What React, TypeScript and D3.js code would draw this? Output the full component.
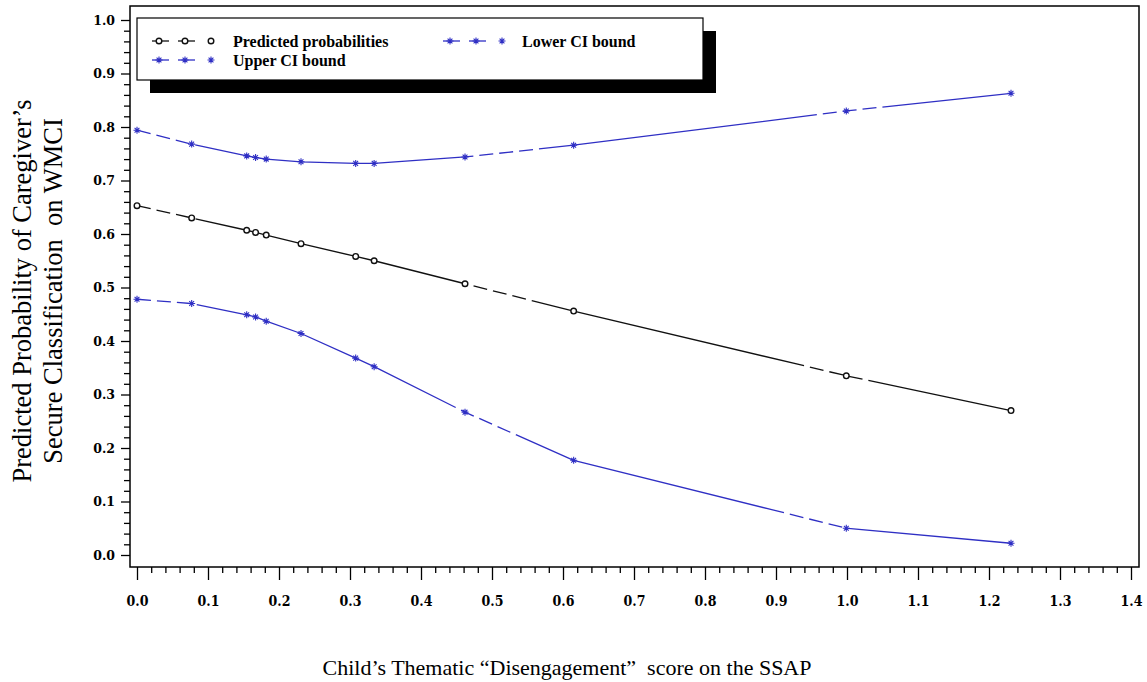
import React, { useEffect, useRef } from 'react';
import * as d3 from 'd3';

// Disengagement scores at which the model was evaluated
const scores = [0.0, 0.077, 0.1545, 0.167, 0.182, 0.231, 0.308, 0.334, 0.462, 0.615, 0.999, 1.231];
// Predicted probability of secure classification and its confidence bounds
const predicted = [0.653, 0.63, 0.607, 0.603, 0.598, 0.582, 0.558, 0.55, 0.507, 0.456, 0.335, 0.27];
const upperBound = [0.794, 0.768, 0.746, 0.743, 0.74, 0.735, 0.732, 0.732, 0.744, 0.766, 0.83, 0.863];
const lowerBound = [0.478, 0.47, 0.449, 0.445, 0.437, 0.414, 0.368, 0.352, 0.267, 0.177, 0.05, 0.022];

const xTickLabels = ['0.0', '0.1', '0.2', '0.3', '0.4', '0.5', '0.6', '0.7', '0.8', '0.9', '1.0', '1.1', '1.2', '1.3', '1.4'];
const yTickLabels = ['0.0', '0.1', '0.2', '0.3', '0.4', '0.5', '0.6', '0.7', '0.8', '0.9', '1.0'];

const seriesNames = ['Predicted probabilities', 'Upper CI bound', 'Lower CI bound'];

const W = 1147;
const H = 682;
const BLUE = '#2f2fc4';
const DASH = '14 6 14 6 14 6 280 6';

export default function App() {
  const ref = useRef<SVGSVGElement | null>(null);

  useEffect(() => {
    const svg = d3.select(ref.current);
    svg.selectAll('*').remove();

    const frame = { left: 130, top: 6, right: 1139, bottom: 567 };
    const x = d3.scaleLinear().domain([0, 1.4]).range([137, 1131]);
    const y = d3.scaleLinear().domain([0, 1]).range([555, 20]);

    svg.append('rect').attr('width', W).attr('height', H).attr('fill', '#fff');

    // plot frame
    svg.append('rect')
      .attr('x', frame.left).attr('y', frame.top)
      .attr('width', frame.right - frame.left).attr('height', frame.bottom - frame.top)
      .attr('fill', 'none').attr('stroke', '#000').attr('stroke-width', 1.5);

    const xMajor = xTickLabels.map(Number);
    const yMajor = yTickLabels.map(Number);
    const xMinor = d3.range(0, 71).map(i => i * 0.02).filter(v => Math.abs(v * 10 - Math.round(v * 10)) > 1e-6);
    const yMinor = d3.range(0, 51).map(i => i * 0.02).filter(v => Math.abs(v * 10 - Math.round(v * 10)) > 1e-6);

    const tickStyle = (g: any) => {
      g.select('.domain').remove();
      g.selectAll('line').attr('stroke', '#000').attr('stroke-width', 1.3);
    };

    // x axis
    const gx = svg.append('g').attr('transform', `translate(0,${frame.bottom})`);
    gx.call(d3.axisBottom(x).tickValues(xMinor).tickSize(6).tickFormat(() => ''));
    gx.call(tickStyle);
    const gx2 = svg.append('g').attr('transform', `translate(0,${frame.bottom})`);
    gx2.call(
      d3.axisBottom(x).tickValues(xMajor).tickSize(13).tickPadding(16)
        .tickFormat((_d, i) => xTickLabels[i])
    );
    gx2.call(tickStyle);
    gx2.selectAll('text')
      .attr('font-family', '"DejaVu Serif", serif')
      .attr('font-weight', 'bold')
      .attr('font-size', 14)
      .attr('font-stretch', 'condensed')
      .attr('fill', '#000');

    // y axis
    const gy = svg.append('g').attr('transform', `translate(${frame.left},0)`);
    gy.call(d3.axisLeft(y).tickValues(yMinor).tickSize(6).tickFormat(() => ''));
    gy.call(tickStyle);
    const gy2 = svg.append('g').attr('transform', `translate(${frame.left},0)`);
    gy2.call(
      d3.axisLeft(y).tickValues(yMajor).tickSize(9).tickPadding(6)
        .tickFormat((_d, i) => yTickLabels[i])
    );
    gy2.call(tickStyle);
    gy2.selectAll('text')
      .attr('font-family', '"DejaVu Serif", serif')
      .attr('font-weight', 'bold')
      .attr('font-size', 12.5)
      .attr('fill', '#000');

    // series lines
    const line = d3.line<number>()
      .x((_d, i) => x(scores[i]))
      .y(d => y(d))
      .curve(d3.curveLinear);

    const series = [
      { values: upperBound, color: BLUE, marker: 'star' },
      { values: lowerBound, color: BLUE, marker: 'star' },
      { values: predicted, color: '#111', marker: 'circle' },
    ];

    const drawMarker = (g: any, cx: number, cy: number, kind: string, color: string) => {
      if (kind === 'circle') {
        g.append('circle').attr('cx', cx).attr('cy', cy).attr('r', 2.8)
          .attr('fill', '#fff').attr('stroke', color).attr('stroke-width', 1.4);
      } else {
        const s = 3.5;
        const d = 2.4;
        g.append('path')
          .attr('d', `M${cx - s},${cy}H${cx + s}M${cx},${cy - s}V${cy + s}` +
            `M${cx - d},${cy - d}L${cx + d},${cy + d}M${cx - d},${cy + d}L${cx + d},${cy - d}`)
          .attr('stroke', color).attr('stroke-width', 1.1).attr('fill', 'none');
      }
    };

    series.forEach(s => {
      svg.append('path')
        .attr('d', line(s.values) as string)
        .attr('fill', 'none')
        .attr('stroke', s.color)
        .attr('stroke-width', 1.3)
        .attr('stroke-linejoin', 'round')
        .attr('stroke-dasharray', DASH);
      const g = svg.append('g');
      s.values.forEach((v, i) => drawMarker(g, x(scores[i]), y(v), s.marker, s.color));
    });

    // legend with drop shadow
    const lg = svg.append('g');
    lg.append('rect').attr('x', 150).attr('y', 31).attr('width', 566).attr('height', 62).attr('fill', '#000');
    lg.append('rect').attr('x', 137).attr('y', 18).attr('width', 566).attr('height', 62)
      .attr('fill', '#fff').attr('stroke', '#000').attr('stroke-width', 1.2);

    const entries = [
      { name: seriesNames[0], color: '#111', marker: 'circle', sx: 152, tx: 233, ty: 42 },
      { name: seriesNames[1], color: BLUE, marker: 'star', sx: 152, tx: 233, ty: 61 },
      { name: seriesNames[2], color: BLUE, marker: 'star', sx: 443, tx: 522, ty: 42 },
    ];
    entries.forEach(e => {
      const cy = e.ty - 1;
      [0, 26].forEach(o => {
        lg.append('line')
          .attr('x1', e.sx + o).attr('x2', e.sx + o + 17)
          .attr('y1', cy).attr('y2', cy)
          .attr('stroke', e.color).attr('stroke-width', 1.3);
      });
      [7, 33, 59].forEach(o => drawMarker(lg, e.sx + o, cy, e.marker, e.color));
      lg.append('text')
        .attr('x', e.tx).attr('y', e.ty + 5)
        .attr('font-family', '"Liberation Serif", serif')
        .attr('font-weight', 'bold')
        .attr('font-size', 16)
        .attr('fill', '#000')
        .text(e.name);
    });

    // axis titles
    const yTitle = svg.append('text')
      .attr('transform', 'translate(0,291) rotate(-90)')
      .attr('text-anchor', 'middle')
      .attr('font-family', '"Liberation Serif", serif')
      .attr('font-size', 26.5)
      .attr('fill', '#000')
      .style('white-space', 'pre');
    yTitle.append('tspan').attr('x', 0).attr('y', 31)
      .text('Predicted Probability of Caregiver\u2019s');
    yTitle.append('tspan').attr('x', 0).attr('y', 62)
      .text('Secure Classification  on WMCI');

    svg.append('text')
      .attr('x', 567).attr('y', 675)
      .attr('text-anchor', 'middle')
      .attr('font-family', '"Liberation Serif", serif')
      .attr('font-size', 22)
      .attr('fill', '#000')
      .style('white-space', 'pre')
      .text('Child\u2019s Thematic \u201cDisengagement\u201d  score on the SSAP');
  }, []);

  return (
    <svg
      ref={ref}
      width={W}
      height={H}
      style={{ position: 'absolute', left: 0, top: 0, display: 'block' }}
    />
  );
}
